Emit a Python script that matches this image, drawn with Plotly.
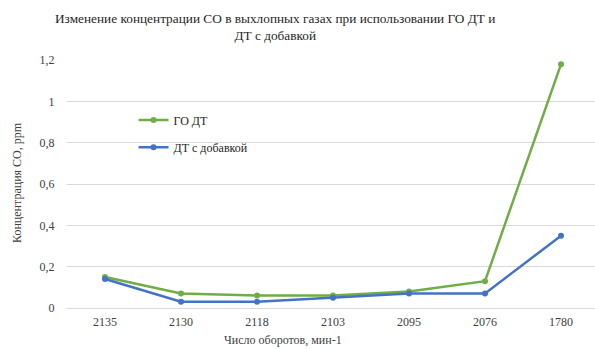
import plotly.graph_objects as go

# Engine speed (rpm) categories and CO concentration for the two fuels
rpm = ["2135", "2130", "2118", "2103", "2095", "2076", "1780"]
co_go_dt = [0.15, 0.07, 0.06, 0.06, 0.08, 0.13, 1.18]
co_dt_additive = [0.14, 0.03, 0.03, 0.05, 0.07, 0.07, 0.35]
y_ticks = [0, 0.2, 0.4, 0.6, 0.8, 1.0, 1.2]

GREEN = "#70AD47"
BLUE = "#4472C4"
FONT = "Liberation Serif"
PLOT_H = 248  # plot area height in px
PLOT_W = 528  # plot area width in px

fig = go.Figure()
fig.add_trace(go.Scatter(
    x=list(range(len(rpm))), y=co_go_dt, name="ГО ДТ", mode="lines+markers",
    line=dict(color=GREEN, width=2.5), marker=dict(size=6, color=GREEN),
    legend="legend",
))
fig.add_trace(go.Scatter(
    x=list(range(len(rpm))), y=co_dt_additive, name="ДТ с добавкой", mode="lines+markers",
    line=dict(color=BLUE, width=2.5), marker=dict(size=6, color=BLUE),
    legend="legend2",
))

legend_style = dict(
    font=dict(family=FONT, size=12, color="#262626"),
    bgcolor="rgba(0,0,0,0)", xanchor="left", yanchor="middle",
    itemwidth=30, tracegroupgap=0,
)

fig.update_layout(
    width=595, height=349,
    margin=dict(l=67, r=0, t=60, b=41),
    paper_bgcolor="white", plot_bgcolor="white",
    separators=", ",
    font=dict(family=FONT, size=12, color="#404040"),
    legend=dict(x=0.126, y=0.758, **legend_style),
    legend2=dict(x=0.126, y=0.648, **legend_style),
    xaxis=dict(
        tickmode="array", tickvals=list(range(len(rpm))), ticktext=rpm,
        range=[-0.5, 6.447], showgrid=False, zeroline=False, showline=False,
        ticks="outside", ticklen=3, tickcolor="rgba(0,0,0,0)",
        tickfont=dict(family=FONT, size=12, color="#404040"),
    ),
    yaxis=dict(
        range=[0, 1.2], tickvals=y_ticks, tickformat=".1~f",
        showgrid=True, gridcolor="#D9D9D9", gridwidth=1,
        zeroline=True, zerolinecolor="#D9D9D9", zerolinewidth=1,
        showline=False, ticks="outside", ticklen=9, tickcolor="rgba(0,0,0,0)",
        tickfont=dict(family=FONT, size=12, color="#404040"),
    ),
    showlegend=True,
)

# Chart title
fig.add_annotation(
    text="Изменение концентрации CO в выхлопных газах при использовании ГО ДТ и<br>ДТ с добавкой",
    xref="paper", yref="paper", x=(275 - 67) / PLOT_W, y=1 + (60 - 9) / PLOT_H,
    xanchor="center", yanchor="top", align="center", showarrow=False,
    font=dict(family=FONT, size=13.3, color="#262626"),
)

# Axis titles
fig.add_annotation(
    text="Число оборотов, мин-1", xref="paper", yref="paper",
    x=(283 - 67) / PLOT_W, y=-32 / PLOT_H, xanchor="center", yanchor="middle",
    showarrow=False, font=dict(family=FONT, size=12, color="#404040"),
)
fig.add_annotation(
    text="Концентрация CO, ppm", xref="paper", yref="paper",
    x=-50 / PLOT_W, y=(308 - 183) / PLOT_H, xanchor="center", yanchor="middle",
    textangle=-90, showarrow=False, font=dict(family=FONT, size=12, color="#404040"),
)

fig.write_html("out.html")
